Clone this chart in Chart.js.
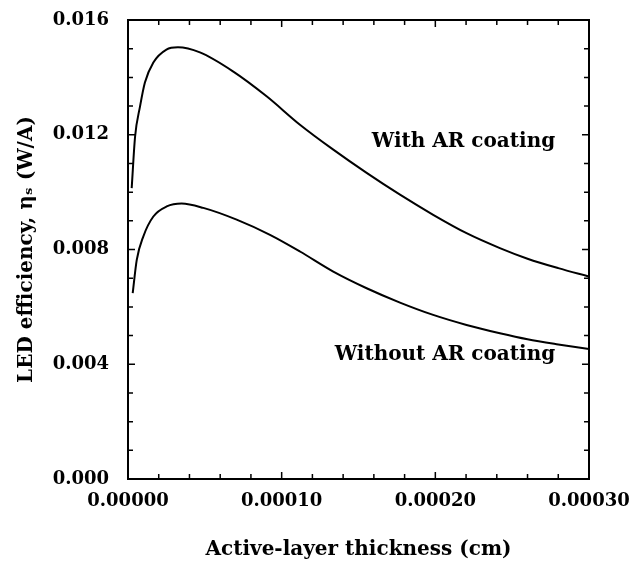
<!DOCTYPE html>
<html>
<head>
<meta charset="utf-8">
<script src="https://cdn.jsdelivr.net/npm/chart.js@4/dist/chart.umd.min.js"></script>
<style>
  html, body { margin: 0; padding: 0; background: #fff; }
  #wrap { width: 633px; height: 563px; position: relative; }
</style>
</head>
<body>
<div id="wrap"><canvas id="c" width="633" height="563"></canvas></div>
<script>
// ---- Data ----
const thicknessWithAR = [2.4e-6, 4.6e-6, 7.8e-6, 1.1e-5, 1.65e-5, 2.5e-5, 3.25e-5, 4.68e-5, 6.83e-5, 9.02e-5,
                         1.119e-4, 1.336e-4, 1.553e-4, 1.77e-4, 1.986e-4, 2.203e-4, 2.42e-4, 2.6e-4, 2.8e-4, 3.0e-4];
const efficiencyWithAR = [0.01014, 0.01193, 0.01298, 0.01382, 0.01452, 0.01497, 0.01505, 0.01487, 0.01421, 0.01334,
                          0.01235, 0.01148, 0.01067, 0.00991, 0.00921, 0.00857, 0.00805, 0.00768, 0.00735, 0.00706];
const thicknessWithoutAR = [3.06e-6, 5.7e-6, 1.0e-5, 1.65e-5, 2.52e-5, 3.49e-5, 4.9e-5, 7.07e-5, 9.24e-5,
                            1.119e-4, 1.336e-4, 1.553e-4, 1.77e-4, 1.986e-4, 2.203e-4, 2.42e-4, 2.6e-4, 2.8e-4, 3.0e-4];
const efficiencyWithoutAR = [0.00648, 0.00764, 0.00846, 0.00915, 0.00950, 0.00960, 0.00945, 0.00904, 0.00851,
                             0.00793, 0.00723, 0.00665, 0.00615, 0.00572, 0.00537, 0.00508, 0.00487, 0.00469, 0.00453];
const seriesLabels = ["With AR coating", "Without AR coating"];
const xTitle = "Active-layer thickness (cm)";
const yTitle = "LED efficiency, \u03b7\u209b (W/A)";
const xRange = [0, 0.0003];
const yRange = [0, 0.016];

const FONT = '"DejaVu Serif", "Liberation Serif", serif';

function pts(xs, ys) { return xs.map((x, i) => ({ x: x, y: ys[i] })); }

const framePlugin = {
  id: 'frame',
  afterDraw(chart) {
    const ctx = chart.ctx;
    const a = chart.chartArea;
    const xs = chart.scales.x, ys = chart.scales.y;
    ctx.save();
    ctx.strokeStyle = '#000';
    ctx.lineWidth = 2;
    ctx.strokeRect(a.left, a.top, a.right - a.left, a.bottom - a.top);
    ctx.lineWidth = 1.5;
    ctx.beginPath();
    ys.ticks.forEach(t => {
      const p = ys.getPixelForValue(t.value);
      const major = Math.round(t.value / 0.001) % 4 === 0;
      const len = major ? 7 : 5;
      ctx.moveTo(a.left, p); ctx.lineTo(a.left + len, p);
      ctx.moveTo(a.right, p); ctx.lineTo(a.right - len, p);
    });
    xs.ticks.forEach(t => {
      const p = xs.getPixelForValue(t.value);
      const major = Math.round(t.value / 0.00001) % 10 === 0;
      const len = major ? 7 : 5;
      ctx.moveTo(p, a.bottom); ctx.lineTo(p, a.bottom - len);
      ctx.moveTo(p, a.top); ctx.lineTo(p, a.top + len);
    });
    ctx.stroke();
    // curve labels
    ctx.fillStyle = '#000';
    ctx.font = 'bold 20px ' + FONT;
    ctx.textAlign = 'right';
    ctx.textBaseline = 'middle';
    ctx.fillText(seriesLabels[0], xs.getPixelForValue(0.000278), ys.getPixelForValue(0.01177));
    ctx.fillText(seriesLabels[1], xs.getPixelForValue(0.000278), ys.getPixelForValue(0.00433));
    ctx.restore();
  }
};

new Chart(document.getElementById('c'), {
  type: 'line',
  data: {
    datasets: [
      { label: seriesLabels[0], data: pts(thicknessWithAR, efficiencyWithAR),
        borderColor: '#000', borderWidth: 2, pointRadius: 0, cubicInterpolationMode: 'monotone', fill: false },
      { label: seriesLabels[1], data: pts(thicknessWithoutAR, efficiencyWithoutAR),
        borderColor: '#000', borderWidth: 2, pointRadius: 0, cubicInterpolationMode: 'monotone', fill: false }
    ]
  },
  options: {
    responsive: false,
    animation: false,
    devicePixelRatio: 1,
    layout: { padding: { top: 20, right: 44, bottom: 0, left: 0 } },
    plugins: { legend: { display: false }, tooltip: { enabled: false } },
    scales: {
      x: {
        type: 'linear', min: xRange[0], max: xRange[1],
        grid: { display: false, drawTicks: false },
        border: { display: false },
        ticks: {
          stepSize: 0.00002, autoSkip: false, maxRotation: 0, padding: 12,
          color: '#000', font: { family: FONT, size: 18, weight: 'bold' },
          callback: v => (Math.round(v / 0.00001) % 10 === 0 ? v.toFixed(5) : '')
        },
        title: { display: true, text: xTitle, color: '#000', padding: { top: 0, bottom: 1 },
                 font: { family: FONT, size: 20, weight: 'bold' } },
        afterFit: s => { s.height = 84; s.paddingLeft = 0; s.paddingRight = 0; }
      },
      y: {
        type: 'linear', min: yRange[0], max: yRange[1],
        grid: { display: false, drawTicks: false },
        border: { display: false },
        ticks: {
          stepSize: 0.001, autoSkip: false, padding: 19,
          color: '#000', font: { family: FONT, size: 18, weight: 'bold' },
          callback: v => (Math.round(v / 0.001) % 4 === 0 ? v.toFixed(3) : '')
        },
        title: { display: true, text: yTitle, color: '#000', padding: { top: 15, bottom: 0 },
                 font: { family: FONT, size: 20, weight: 'bold' } },
        afterFit: s => { s.width = 128; s.paddingTop = 0; s.paddingBottom = 0; }
      }
    }
  },
  plugins: [framePlugin]
});
</script>
</body>
</html>
